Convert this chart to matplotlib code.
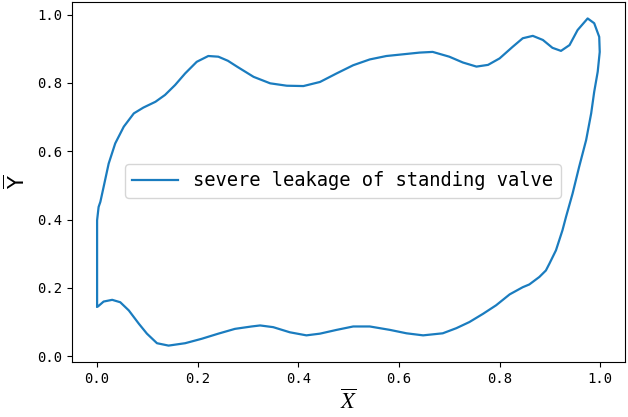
"""Dynamometer card: severe leakage of standing valve (normalised X vs Y)."""

import matplotlib
matplotlib.use("Agg")
import matplotlib.pyplot as plt

# closed loop: up the left edge from (0, 0.146),
# along the top, down the right side, then back along the bottom
X_TOP = [0.0, 0.0, 0.003, 0.0065, 0.013, 0.023, 0.036, 0.053, 0.073, 0.092,
         0.116, 0.135, 0.155, 0.175, 0.198, 0.221, 0.241, 0.260, 0.278, 0.311,
         0.344, 0.377, 0.410, 0.443, 0.476, 0.509, 0.542, 0.575, 0.608, 0.641,
         0.667, 0.700, 0.727, 0.754, 0.777, 0.800, 0.826, 0.846, 0.866, 0.886,
         0.905, 0.922, 0.939, 0.955, 0.975, 0.988, 0.998, 0.999, 0.995, 0.988]
Y_TOP = [0.146, 0.398, 0.437, 0.452, 0.496, 0.564, 0.623, 0.672, 0.711, 0.728,
         0.745, 0.765, 0.794, 0.828, 0.862, 0.879, 0.877, 0.865, 0.848, 0.818,
         0.799, 0.792, 0.791, 0.803, 0.828, 0.852, 0.869, 0.879, 0.884, 0.889,
         0.891, 0.877, 0.860, 0.848, 0.853, 0.872, 0.906, 0.931, 0.938, 0.926,
         0.903, 0.894, 0.911, 0.955, 0.989, 0.975, 0.935, 0.891, 0.833, 0.774]

X_BOTTOM = [0.982, 0.972, 0.958, 0.945, 0.932, 0.925, 0.912, 0.899, 0.892,
            0.879, 0.859, 0.846, 0.820, 0.793, 0.767, 0.740, 0.714, 0.687,
            0.648, 0.615, 0.582, 0.542, 0.509, 0.476, 0.443, 0.416, 0.383,
            0.350, 0.324, 0.307, 0.274, 0.241, 0.208, 0.175, 0.142, 0.119,
            0.099, 0.083, 0.063, 0.046, 0.030, 0.013, 0.002, 0.0]
Y_BOTTOM = [0.711, 0.633, 0.554, 0.476, 0.408, 0.369, 0.310, 0.271, 0.251,
            0.232, 0.210, 0.202, 0.181, 0.149, 0.124, 0.100, 0.082, 0.067,
            0.061, 0.067, 0.077, 0.087, 0.087, 0.077, 0.066, 0.061, 0.070,
            0.085, 0.090, 0.087, 0.080, 0.066, 0.051, 0.038, 0.031, 0.038,
            0.066, 0.095, 0.134, 0.158, 0.165, 0.160, 0.146, 0.146]

LABEL = "severe leakage of standing valve"

plt.rcParams["font.family"] = ["DejaVu Sans Mono"]
plt.rcParams["mathtext.fontset"] = "stix"

fig = plt.figure(figsize=(6.28, 4.17), dpi=100)
ax = fig.add_axes([0.1146, 0.132, 0.8804, 0.863])

ax.plot(X_TOP + X_BOTTOM, Y_TOP + Y_BOTTOM, color="#1a7cbf", linewidth=1.6,
        solid_joinstyle="round", label=LABEL)

ax.set_xticks([0.0, 0.2, 0.4, 0.6, 0.8, 1.0])
ax.set_yticks([0.0, 0.2, 0.4, 0.6, 0.8, 1.0])
ax.tick_params(labelsize=10)
ax.set_xlabel(r"$\overline{X}$", fontsize=16, labelpad=2)
ax.set_ylabel(r"$\overline{\mathrm{Y}}$", fontsize=15, labelpad=6,
              math_fontfamily="dejavusans")
ax.legend(loc="center", bbox_to_anchor=(0.49, 0.503), fontsize=13.5,
          handlelength=2.45)

fig.savefig("out.png", dpi=100)
